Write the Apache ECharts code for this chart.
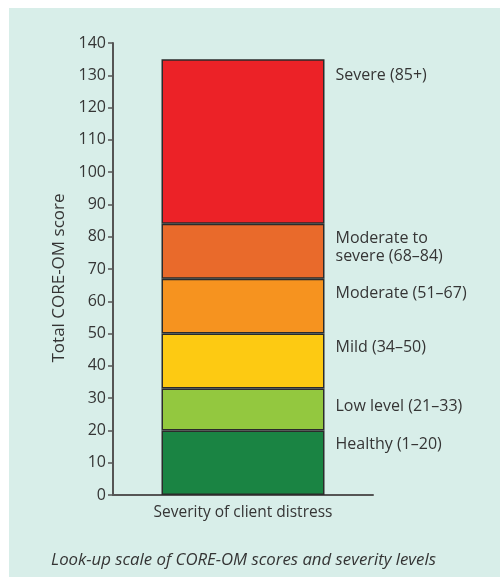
<!DOCTYPE html>
<html>
<head>
<meta charset="utf-8">
<script src="https://cdn.jsdelivr.net/npm/echarts@6/dist/echarts.min.js"></script>
<style>
  html, body { margin: 0; padding: 0; background: #ffffff; }
  #chart { width: 500px; height: 578px; }
</style>
</head>
<body>
<div id="chart"></div>
<script>
// Severity bands of the CORE-OM total score, stacked bottom to top
const bandNames = [
  'Healthy (1–20)',
  'Low level (21–33)',
  'Mild (34–50)',
  'Moderate (51–67)',
  'Moderate to\nsevere (68–84)',
  'Severe (85+)'
];
const bandHeights = [20, 13, 17, 17, 17, 51];
const bandColors = ['#1a8443', '#93c83f', '#fdca12', '#f6931f', '#e96a2b', '#ec2227'];
const labelTops = [5, 9, 5, 6, 6, 7];
const categories = ['Severity of client distress'];
const yTicks = { min: 0, max: 140, interval: 10 };
const caption = 'Look-up scale of CORE-OM scores and severity levels';

const FONT = '"Open Sans", "Noto Sans", sans-serif';
const TEXT = '#353535';

const chart = echarts.init(document.getElementById('chart'), null, { renderer: 'canvas' });

const series = bandNames.map((name, i) => ({
  name: name,
  type: 'bar',
  stack: 'score',
  barWidth: 163,
  data: [bandHeights[i]],
  itemStyle: { color: bandColors[i], borderColor: '#2b2b2b', borderWidth: 1.5 },
  label: {
    show: true,
    position: ['100%', labelTops[i]],
    offset: [11, 0],
    formatter: name,
    fontFamily: FONT,
    fontSize: 16,
    lineHeight: 18,
    color: TEXT
  },
  emphasis: { disabled: true },
  silent: true
}));

chart.setOption({
  animation: false,
  backgroundColor: '#ffffff',
  graphic: [
    {
      type: 'rect',
      shape: { x: 9, y: 8, width: 491, height: 569 },
      style: { fill: '#d8eee9' },
      z: -10
    },
    {
      type: 'text',
      x: 243.5,
      y: 560,
      style: {
        text: caption,
        fontFamily: FONT,
        fontSize: 16.8,
        fontStyle: 'italic',
        fill: TEXT,
        textAlign: 'center',
        textVerticalAlign: 'middle'
      }
    }
  ],
  grid: { left: 113, right: 127, top: 43, bottom: 83, containLabel: false },
  xAxis: {
    type: 'category',
    data: categories,
    axisLine: { lineStyle: { color: '#555555', width: 2 } },
    axisTick: { show: false },
    axisLabel: { fontFamily: FONT, fontSize: 15.5, color: TEXT, margin: 10 }
  },
  yAxis: {
    type: 'value',
    min: yTicks.min,
    max: yTicks.max,
    interval: yTicks.interval,
    name: 'Total CORE-OM score',
    nameLocation: 'middle',
    nameGap: 42,
    nameTextStyle: { fontFamily: FONT, fontSize: 17, color: TEXT, padding: [0, 18, 0, 0] },
    axisLine: { show: true, lineStyle: { color: '#555555', width: 2 } },
    axisTick: { show: true, length: 5, lineStyle: { color: '#555555', width: 1.5 } },
    axisLabel: { fontFamily: FONT, fontSize: 16, color: TEXT, margin: 7 },
    splitLine: { show: false }
  },
  series: series
});
</script>
</body>
</html>
